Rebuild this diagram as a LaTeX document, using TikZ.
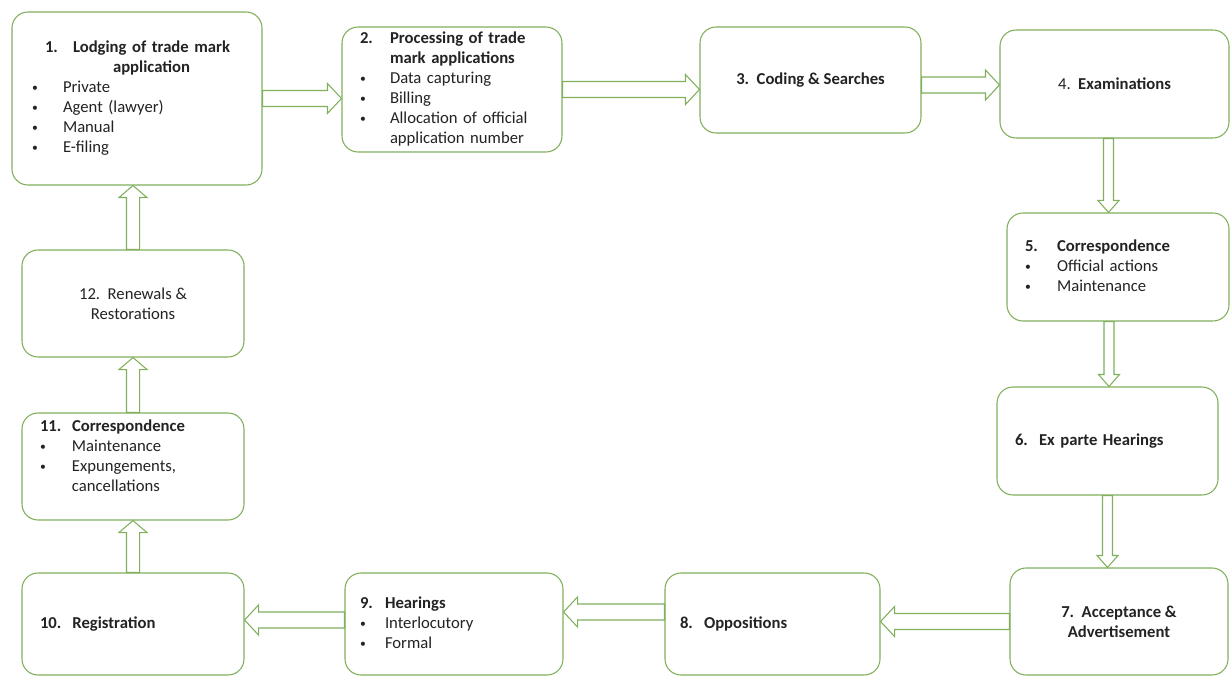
\documentclass[tikz,border=0pt]{standalone}
\usepackage{fontspec}
\setmainfont{Carlito}
\usepackage{xcolor}
\usepackage{graphicx}
\usetikzlibrary{calc}
\definecolor{stagegreen}{RGB}{128,176,92}
\definecolor{stagetext}{RGB}{35,35,35}
\newcommand{\bul}{\raisebox{0.12ex}{\scalebox{0.7}{\textbullet}}}

\begin{document}
\begin{tikzpicture}[x=0.75pt, y=-0.75pt,
  stage/.style={draw=stagegreen, line width=0.8pt, rounded corners=12pt, fill=white, text=stagetext, inner ysep=0pt, font=\fontsize{12.5}{15}\selectfont},
  lstage/.style={stage, align=left},
  cstage/.style={stage, align=center},
  blockarrow/.style n args={3}{draw=stagegreen, fill=white, line width=0.8pt,
    to path={let \p1=($(\tikztotarget)!#3!(\tikztostart)$) in
      ($(\tikztostart)!#1!90:(\tikztotarget)$) -- ($(\p1)!#1!90:(\tikztotarget)$)
      -- ($(\p1)!#2!90:(\tikztotarget)$) -- (\tikztotarget)
      -- ($(\p1)!#2!-90:(\tikztotarget)$) -- ($(\p1)!#1!-90:(\tikztotarget)$)
      -- ($(\tikztostart)!#1!-90:(\tikztotarget)$) -- cycle}},
  harrow/.style={blockarrow={6pt}{11.25pt}{10.5pt}},
  varrow/.style={blockarrow={4.9pt}{10.5pt}{9pt}},
  rarrow/.style={blockarrow={3.75pt}{7.9pt}{9pt}}]
  \useasboundingbox (0,0) rectangle (1230,677);
  % top row
  \node[lstage, text width=157.5pt, inner xsep=15pt, minimum height=129.75pt] (lodge) at (137,98.5) {%
    \begin{tabular}{@{}p{23.25pt}@{}l@{}}
    \multicolumn{2}{@{\hspace{9.75pt}}l@{}}{\bfseries\makebox[21pt][l]{1.}\begin{tabular}[t]{@{}c@{}}Lodging of trade mark\\application\end{tabular}}\\
    \bul & Private\\
    \bul & Agent (lawyer)\\
    \bul & Manual\\
    \bul & E-filing
    \end{tabular}};
  \node[lstage, text width=138pt, inner xsep=13.5pt, minimum height=93.75pt] (proc) at (452,89.5) {%
    \begin{tabular}{@{}p{22.5pt}@{}l@{}}
    \bfseries 2. & \bfseries Processing of trade\\
     & \bfseries mark applications\\
    \bul & Data capturing\\
    \bul & Billing\\
    \bul & Allocation of official\\
     & application number
    \end{tabular}};
  \node[cstage, minimum width=165.75pt, minimum height=79.5pt] (code) at (810.5,80) {\textbf{3.\ \ Coding \& Searches}};
  \node[cstage, minimum width=171.75pt, minimum height=81pt] (exam) at (1114.5,84) {4.\ \ \textbf{Examinations}};
  % right column
  \node[lstage, text width=139.5pt, inner xsep=13.5pt, minimum height=81pt] (corr) at (1118,267) {%
    \begin{tabular}{@{}p{24pt}@{}l@{}}
    \bfseries 5. & \bfseries Correspondence\\
    \bul & Official actions\\
    \bul & Maintenance
    \end{tabular}};
  \node[lstage, text width=138.75pt, inner xsep=13.5pt, minimum height=81pt] (exparte) at (1107.5,441) {\textbf{6.\ \ Ex parte Hearings}};
  % bottom row
  \node[cstage, minimum width=163.5pt, minimum height=80.25pt] (accept) at (1119,621.5) {\textbf{7.\ \ Acceptance \&}\\\textbf{Advertisement}};
  \node[lstage, text width=138.75pt, inner xsep=11.25pt, minimum height=76.5pt] (oppose) at (772.5,624) {\textbf{8.\ \ Oppositions}};
  \node[lstage, text width=141pt, inner xsep=11.25pt, minimum height=76.5pt] (hear) at (454,624) {%
    \begin{tabular}{@{}p{18.75pt}@{}l@{}}
    \bfseries 9. & \bfseries Hearings\\
    \bul & Interlocutory\\
    \bul & Formal
    \end{tabular}};
  \node[lstage, text width=139.5pt, inner xsep=13.5pt, minimum height=76.5pt] (regist) at (133,624) {\textbf{10.\ \ Registration}};
  % left column
  \node[lstage, text width=139.5pt, inner xsep=13.5pt, minimum height=80.25pt] (maint) at (133,466.5) {%
    \begin{tabular}{@{}p{24pt}@{}l@{}}
    \bfseries 11. & \bfseries Correspondence\\
    \bul & Maintenance\\
    \bul & Expungements,\\
     & cancellations\\[13.5pt]
    \end{tabular}};
  \node[cstage, minimum width=166.5pt, minimum height=80.25pt] (renew) at (133,303.5) {12.\ \ Renewals \&\\Restorations};
  % hollow block arrows
  \draw[harrow] (lodge.east) to (lodge.east -| proc.west);
  \draw[harrow] (proc.east) to (proc.east -| code.west);
  \draw[harrow] ([yshift=-3.75pt]code.east) to ([yshift=-3.75pt]code.east -| exam.west);
  \draw[rarrow] ([xshift=-4.5pt]exam.south) to ([xshift=-4.5pt]exam.south |- corr.north);
  \draw[rarrow] ([xshift=-6.75pt]corr.south) to ([xshift=-6.75pt]corr.south |- exparte.north);
  \draw[rarrow] (exparte.south) to (exparte.south |- accept.north);
  \draw[harrow] (accept.west) to (accept.west -| oppose.east);
  \draw[harrow] ([yshift=9pt]oppose.west) to ([yshift=9pt]oppose.west -| hear.east);
  \draw[harrow] ([yshift=3pt]hear.west) to ([yshift=3pt]hear.west -| regist.east);
  \draw[varrow] (regist.north) to (regist.north |- maint.south);
  \draw[varrow] (maint.north) to (maint.north |- renew.south);
  \draw[varrow] (renew.north) to (renew.north |- lodge.south);
\end{tikzpicture}
\end{document}
